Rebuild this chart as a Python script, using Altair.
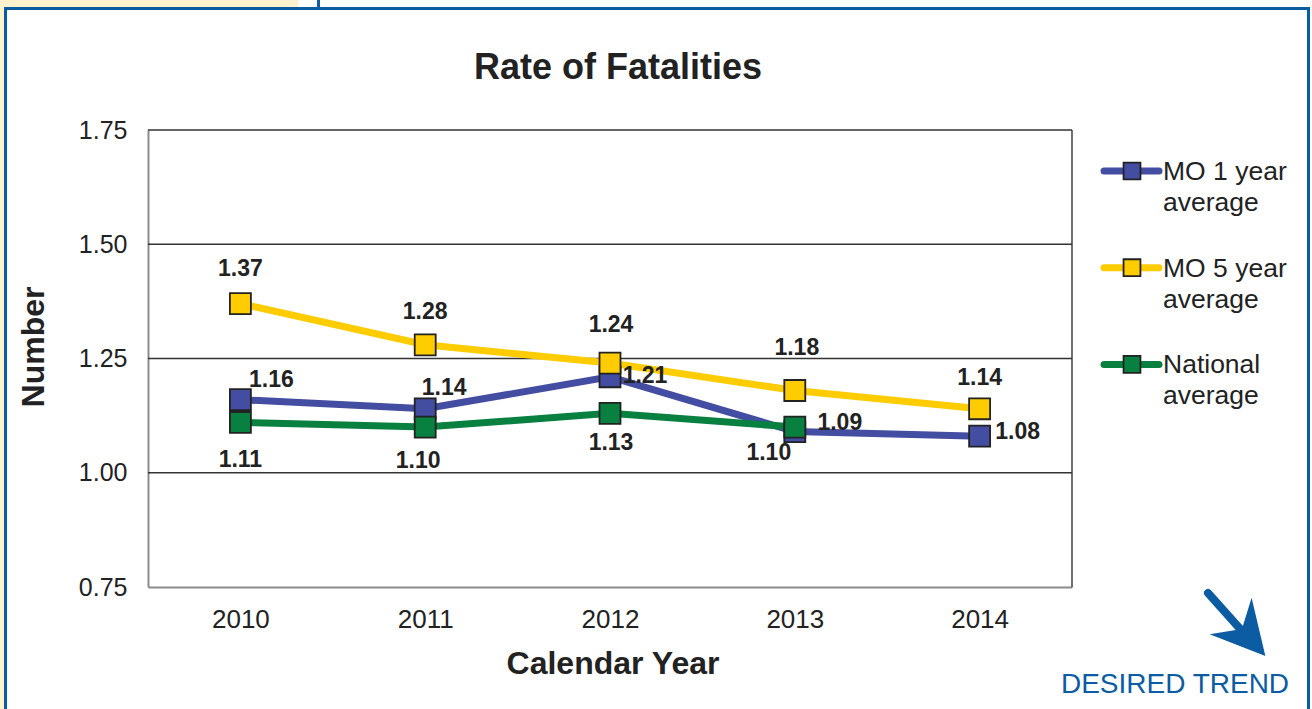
import altair as alt
import pandas as pd

# ---------------- data ----------------
years = ["2010", "2011", "2012", "2013", "2014"]
series_names = ["MO 1 year average", "MO 5 year average", "National average"]
mo1_values = [1.16, 1.14, 1.21, 1.09, 1.08]
mo5_values = [1.37, 1.28, 1.24, 1.18, 1.14]
national_values = [1.11, 1.10, 1.13, 1.10, None]
y_tick_values = [0.75, 1.00, 1.25, 1.50, 1.75]
grid_values = [1.00, 1.25, 1.50, 1.75]
legend_labels = ["MO 1 year\naverage", "MO 5 year\naverage", "National\naverage"]
title_text = "Rate of Fatalities"
x_title = "Calendar Year"
y_title = "Number"
trend_text = "DESIRED TREND"

# ---------------- styles ----------------
colors = ["#434DA1", "#FFCC00", "#08803F"]
FONT = "Liberation Sans, Arial, sans-serif"
TXT = "#222222"
FRAME_BLUE = "#0C5CA4"
BEIGE = "#FFF2CC"

W, H = 924, 457          # plot area
OX, OY = 148, 130        # plot origin in page


def px(x):
    return x - OX


def py(y):
    return y - OY


rows = []
for name, vals in zip(series_names, [mo1_values, mo5_values, national_values]):
    for yr, v in zip(years, vals):
        if v is not None:
            rows.append({"year": yr, "series": name, "value": v})
df = pd.DataFrame(rows)
one = pd.DataFrame({"k": [0]})

x_scale = alt.Scale(type="point", domain=years, padding=0.5)
y_scale = alt.Scale(domain=[0.75, 1.75], nice=False, zero=False)

x_axis = alt.Axis(labelAngle=0, labelFont=FONT, labelFontSize=26, labelColor=TXT,
                  labelPadding=19, ticks=False, tickSize=0, domainColor="#8C8C8C",
                  domainWidth=2, grid=False)
y_axis = alt.Axis(values=y_tick_values, format=".2f", labelFont=FONT, labelFontSize=25,
                  labelColor=TXT, labelPadding=21, ticks=False, tickSize=0,
                  domainColor="#8C8C8C", domainWidth=2, grid=False)

x_enc = alt.X("year:O", scale=x_scale, title=None, axis=x_axis)
y_enc = alt.Y("value:Q", scale=y_scale, title=None, axis=y_axis)
color_enc = alt.Color("series:N", scale=alt.Scale(domain=series_names, range=colors), legend=None)

layers = []


def rect(x1, x2, y1, y2, color):
    return alt.Chart(one).mark_rect(color=color).encode(
        x=alt.value(px(x1)), x2=alt.value(px(x2)), y=alt.value(py(y1)), y2=alt.value(py(y2))
    )


# page frame
layers.append(rect(0, 298, 0, 7, BEIGE))
layers.append(rect(0, 4, 0, 709, BEIGE))
layers.append(rect(4, 7, 7, 709, FRAME_BLUE))
layers.append(rect(4, 1310, 7, 10, FRAME_BLUE))
layers.append(rect(1307, 1310, 7, 709, FRAME_BLUE))
layers.append(rect(317, 320, 0, 8, FRAME_BLUE))

# gridlines + right border
layers.append(
    alt.Chart(pd.DataFrame({"value": grid_values})).mark_rule(color="#333333", strokeWidth=1.4).encode(
        y=y_enc
    )
)
layers.append(
    alt.Chart(one).mark_rule(color="#333333", strokeWidth=1.4).encode(
        x=alt.value(W), y=alt.value(0), y2=alt.value(H)
    )
)

# lines
for name in series_names:
    layers.append(
        alt.Chart(df).transform_filter(alt.datum.series == name)
        .mark_line(strokeWidth=7)
        .encode(x=x_enc, y=y_enc, color=color_enc)
    )

# data labels (offsets per label, as placed in the original)
label_offsets = {
    "MO 1 year average": {"2010": (31, -20), "2011": (19, -21), "2012": (35, -1),
                          "2013": (45, -9), "2014": (38, -4)},
    "MO 5 year average": {"2010": (0, -35), "2011": (0, -33), "2012": (1, -38),
                          "2013": (2, -42), "2014": (0, -31)},
    "National average": {"2010": (0, 38), "2011": (-7, 34), "2012": (1, 30),
                         "2013": (-26, 26)},
}
for name, offs in label_offsets.items():
    for yr, (dx, dy) in offs.items():
        layers.append(
            alt.Chart(df)
            .transform_filter((alt.datum.series == name) & (alt.datum.year == yr))
            .mark_text(font=FONT, fontSize=23, fontWeight="bold", color=TXT, dx=dx, dy=dy,
                       align="center", baseline="middle")
            .encode(x=x_enc, y=y_enc, text=alt.Text("value:Q", format=".2f"))
        )

# markers
for name in series_names:
    layers.append(
        alt.Chart(df).transform_filter(alt.datum.series == name)
        .mark_square(size=440, filled=True, opacity=1, stroke="#222222", strokeWidth=1.8)
        .encode(x=x_enc, y=y_enc, color=color_enc)
    )

# custom legend
for i, (label, col) in enumerate(zip(legend_labels, colors)):
    yc = 171 + i * 96.7
    layers.append(
        alt.Chart(one).mark_rule(color=col, strokeWidth=7, strokeCap="round").encode(
            x=alt.value(px(1104)), x2=alt.value(px(1159)), y=alt.value(py(yc))
        )
    )
    layers.append(
        alt.Chart(one).mark_square(size=285, filled=True, opacity=1, color=col,
                                   stroke="#222222", strokeWidth=1.8).encode(
            x=alt.value(px(1132)), y=alt.value(py(yc))
        )
    )
    layers.append(
        alt.Chart(pd.DataFrame({"t": [label]})).mark_text(
            font=FONT, fontSize=26.5, color=TXT, align="left", baseline="alphabetic",
            lineBreak="\n", lineHeight=31
        ).encode(x=alt.value(px(1163)), y=alt.value(py(yc + 9)), text="t:N")
    )

# titles
layers.append(
    alt.Chart(pd.DataFrame({"t": [title_text]})).mark_text(
        font=FONT, fontSize=36, fontWeight="bold", color=TXT, align="center", baseline="middle"
    ).encode(x=alt.value(px(618)), y=alt.value(py(68)), text="t:N")
)
layers.append(
    alt.Chart(pd.DataFrame({"t": [x_title]})).mark_text(
        font=FONT, fontSize=32, fontWeight="bold", color=TXT, align="center", baseline="middle"
    ).encode(x=alt.value(px(613)), y=alt.value(py(664)), text="t:N")
)
layers.append(
    alt.Chart(pd.DataFrame({"t": [y_title]})).mark_text(
        font=FONT, fontSize=32, fontWeight="bold", color=TXT, align="center", baseline="middle",
        angle=270
    ).encode(x=alt.value(px(34)), y=alt.value(py(347)), text="t:N")
)

# desired trend arrow + text
layers.append(
    alt.Chart(one).mark_rule(color=FRAME_BLUE, strokeWidth=8, strokeCap="round").encode(
        x=alt.value(px(1208)), x2=alt.value(px(1242)), y=alt.value(py(593)), y2=alt.value(py(631))
    )
)
layers.append(
    alt.Chart(one).mark_point(
        shape="M1,0 L-1,-1.05 L-0.35,0 L-1,1.05 Z", size=2800, angle=49,
        filled=True, opacity=1, color=FRAME_BLUE, strokeWidth=0
    ).encode(x=alt.value(px(1248)), y=alt.value(py(636)))
)
layers.append(
    alt.Chart(pd.DataFrame({"t": [trend_text]})).mark_text(
        font=FONT, fontSize=28, color=FRAME_BLUE, align="center", baseline="middle"
    ).encode(x=alt.value(px(1175)), y=alt.value(py(685)), text="t:N")
)

chart = alt.layer(*layers).properties(
    width=W, height=H,
    autosize=alt.AutoSizeParams(type="none"),
    padding={"left": OX, "top": OY, "right": 1312 - OX - W, "bottom": 709 - OY - H},
    background="white",
).configure_view(stroke=None)

chart.save("out.html", embed_options={"renderer": "svg", "actions": False})
